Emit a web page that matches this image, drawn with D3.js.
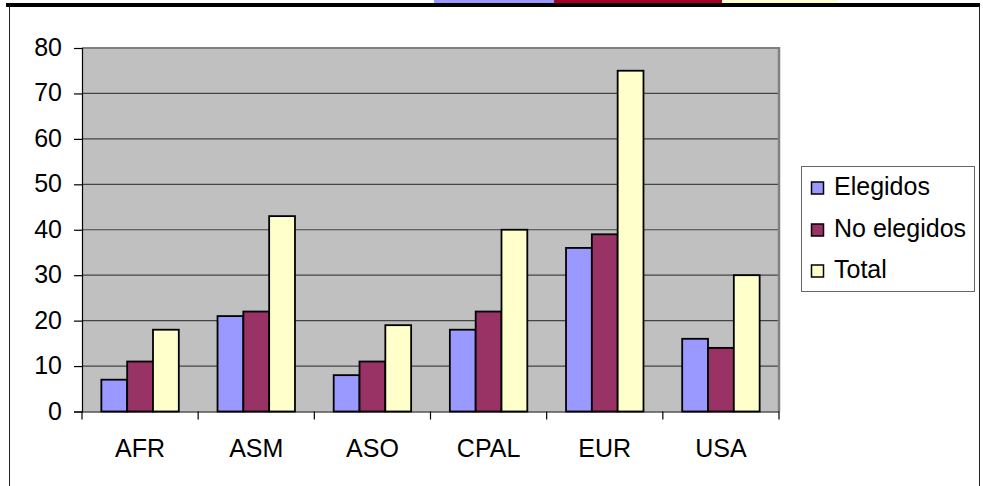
<!DOCTYPE html>
<html><head><meta charset="utf-8">
<script src="https://cdn.jsdelivr.net/npm/d3@7"></script>
<style>body{margin:0;background:#fff}svg{display:block}text{font-family:"Liberation Sans",Arial,sans-serif;fill:#000}</style>
</head><body><svg id="c" width="983" height="486"></svg>
<script>
const categories = ["AFR","ASM","ASO","CPAL","EUR","USA"];
const seriesNames = ["Elegidos","No elegidos","Total"];
const elegidos = [7,21,8,18,36,16];
const noElegidos = [11,22,11,22,39,14];
const total = [18,43,19,40,75,30];
const yTicks = [0,10,20,30,40,50,60,70,80];
const colors = ["#9999FF","#993366","#FFFFCC"];
const seriesValues = [elegidos, noElegidos, total];

const svg = d3.select("#c");
// frame
svg.append("rect").attr("x",434).attr("y",0).attr("width",120).attr("height",3).attr("fill","#9999FF");
svg.append("rect").attr("x",554).attr("y",0).attr("width",168).attr("height",3).attr("fill","#A5002A");
svg.append("rect").attr("x",722).attr("y",0).attr("width",115).attr("height",3).attr("fill","#FFFFCC");
svg.append("rect").attr("x",6).attr("y",3).attr("width",974).attr("height",4).attr("fill","#000");
svg.append("line").attr("x1",9.5).attr("x2",9.5).attr("y1",6).attr("y2",486).attr("stroke","#222").attr("stroke-width",1);
svg.append("line").attr("x1",979.5).attr("x2",979.5).attr("y1",6).attr("y2",486).attr("stroke","#222").attr("stroke-width",1);

const L=82, R=779, T=48, B=411.5;
const x = d3.scaleBand().domain(categories).range([L,R]).paddingInner(0).paddingOuter(0);
const y = d3.scaleLinear().domain([0,80]).range([B,T]);

svg.append("rect").attr("x",L).attr("y",T).attr("width",R-L).attr("height",B-T).attr("fill","#C0C0C0");
// gridlines
svg.append("g").selectAll("line").data(yTicks.filter(d=>d>0)).join("line")
  .attr("x1",L).attr("x2",R).attr("y1",d=>y(d)).attr("y2",d=>y(d))
  .attr("stroke",d=>d===80?"#808080":"#444").attr("stroke-width",d=>d===80?2:1.2);
svg.append("line").attr("x1",R).attr("x2",R).attr("y1",T-1).attr("y2",B).attr("stroke","#808080").attr("stroke-width",2.5);

// bars
const bw = x.bandwidth()/4.5;
const g = svg.append("g");
categories.forEach((c,i)=>{
  seriesValues.forEach((vals,s)=>{
    const x0 = x(c) + bw*0.75 + s*bw;
    g.append("rect").attr("x",x0).attr("y",y(vals[i])).attr("width",bw).attr("height",B-y(vals[i]))
      .attr("fill",colors[s]).attr("stroke","#000").attr("stroke-width",1.8);
  });
});

// y axis
const ya = svg.append("g").attr("transform",`translate(${L},0)`)
  .call(d3.axisLeft(y).tickValues(yTicks).tickSize(8).tickPadding(12).tickFormat(d3.format("d")));
ya.select(".domain").attr("stroke","#000").attr("stroke-width",1.2);
ya.selectAll(".tick line").attr("stroke","#000").attr("stroke-width",1.2);
ya.selectAll(".tick text").attr("font-size",25).attr("font-family","Liberation Sans, Arial, sans-serif").attr("dy","0.3em").attr("dx","0");

// x axis
const xa = svg.append("g").attr("transform",`translate(0,${B})`)
  .call(d3.axisBottom(x).tickSize(0).tickPadding(0));
xa.select(".domain").attr("stroke","#000").attr("stroke-width",1.2);
xa.selectAll(".tick text").attr("font-size",25).attr("font-family","Liberation Sans, Arial, sans-serif").attr("y",45).attr("dy",0);
svg.append("g").selectAll("line").data(categories.concat(["end"])).join("line")
  .attr("x1",(d,i)=> i<categories.length? x(d): R).attr("x2",(d,i)=> i<categories.length? x(d): R)
  .attr("y1",B).attr("y2",B+8).attr("stroke","#000").attr("stroke-width",1.2);

// legend
svg.append("rect").attr("x",801.5).attr("y",166.5).attr("width",173).attr("height",125)
  .attr("fill","#fff").attr("stroke","#666").attr("stroke-width",1);
const baselines=[195,237,278];
seriesNames.forEach((n,s)=>{
  svg.append("rect").attr("x",811.5).attr("y",baselines[s]-13).attr("width",12).attr("height",12)
    .attr("fill",colors[s]).attr("stroke","#000").attr("stroke-width",1.5);
  svg.append("text").attr("x",834).attr("y",baselines[s]).attr("font-size",25).text(n);
});
</script></body></html>
